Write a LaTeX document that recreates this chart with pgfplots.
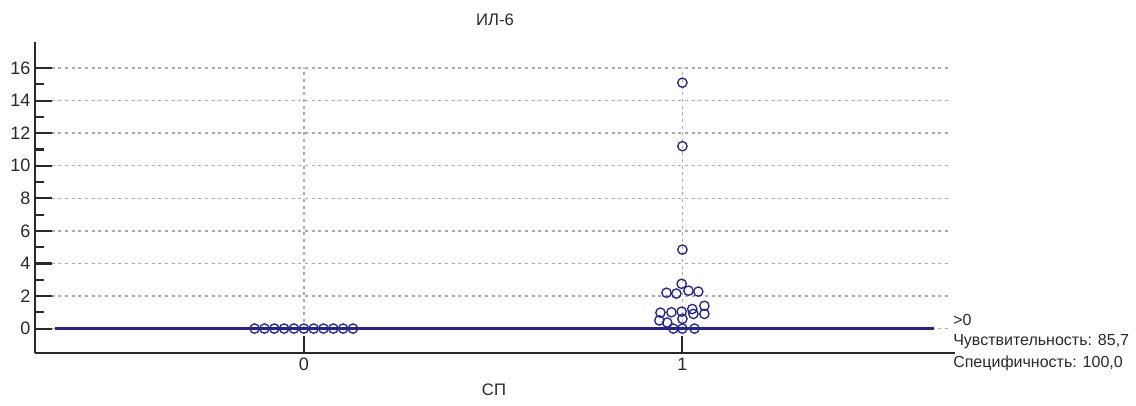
\documentclass[border=0pt]{standalone}
\usepackage{pgfplots}
\pgfplotsset{compat=1.18}
\usepackage{fontspec}
\setmainfont{Liberation Sans}
\definecolor{pblue}{RGB}{35,35,145}
\definecolor{gridgray}{RGB}{170,170,170}
\definecolor{axgray}{RGB}{40,40,40}
\definecolor{txt}{RGB}{40,40,40}
\begin{document}
\begin{tikzpicture}[x=0.75pt,y=0.75pt]
\useasboundingbox (0,0) rectangle (1136,405);
\begin{axis}[
  at={(26.25pt,39pt)}, anchor=south west,
  scale only axis, width=690pt, height=233.25pt,
  xmin=-0.71, xmax=1.72, ymin=-1.5, ymax=17.6,
  axis x line=bottom, axis y line=left,
  axis line style={-, line width=2.2pt, axgray},
  xtick={0,1}, ytick={0,2,4,6,8,10,12,14,16},
  minor ytick={1,3,5,7,9,11,13,15},
  tick align=inside, major tick length=13pt, minor tick length=6.5pt,
  every tick/.style={axgray, line width=1.6pt},
  tick label style={font=\fontsize{13.5}{14}\selectfont, text=txt},
  /pgf/number format/assume math mode=true,
  clip=false,
]
\pgfplotsinvokeforeach{0,2,4,6,8,10,12,14,16}{
  \draw[gridgray, dash pattern=on 2.2pt off 2.8pt, line width=1.1pt] (axis cs:-0.666,#1) -- (axis cs:1.706,#1);
}
\draw[gridgray, dash pattern=on 2.2pt off 2.8pt, line width=1.1pt] (axis cs:0,0) -- (axis cs:0,16);
\draw[gridgray, dash pattern=on 2.2pt off 2.8pt, line width=1.1pt] (axis cs:1,0) -- (axis cs:1,16);
\addplot[pblue, line width=2.4pt] coordinates {(-0.657,0) (1.665,0)};
\addplot[only marks, mark=o, mark size=3.5pt, pblue, mark options={line width=1pt}] coordinates {
(-0.13,0) (-0.104,0) (-0.078,0) (-0.052,0) (-0.026,0) (0,0) (0.026,0) (0.052,0) (0.078,0) (0.104,0) (0.13,0)
};
\addplot[only marks, mark=o, mark size=3.5pt, pblue, mark options={line width=1pt}] coordinates {
(1.0,15.1) (1.0,11.2) (1.0,4.85)
(0.958,2.2) (0.984,2.15) (0.998,2.75) (1.016,2.33) (1.042,2.27)
(0.942,0.98) (0.971,1.0) (0.998,1.04) (1.026,1.2) (1.029,0.9) (1.058,1.4) (1.058,0.9)
(0.939,0.5) (0.960,0.37) (1.0,0.6)
(0.976,0) (1.0,0) (1.032,0)
};
\end{axis}
\node[font=\fontsize{12.5}{13}\selectfont, text=txt] at (495,385) {ИЛ-6};
\node[font=\fontsize{12.5}{13}\selectfont, text=txt] at (494,15) {СП};
\node[font=\fontsize{12}{13}\selectfont, text=txt, anchor=west, inner sep=0pt] at (953,85) {>0};
\node[font=\fontsize{12}{13}\selectfont, text=txt, anchor=west, inner sep=0pt] at (953,63) {Чувствительность: 85,7};
\node[font=\fontsize{12}{13}\selectfont, text=txt, anchor=west, inner sep=0pt] at (953,42) {Специфичность: 100,0};
\end{tikzpicture}
\end{document}
